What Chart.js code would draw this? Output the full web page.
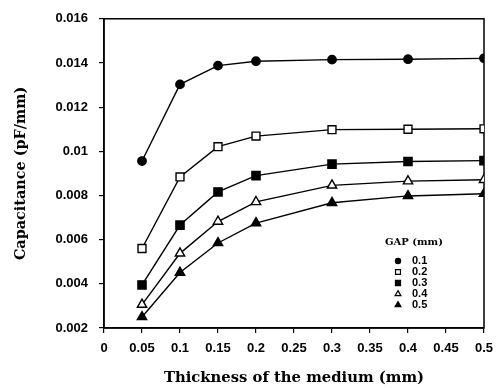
<!DOCTYPE html>
<html>
<head>
<meta charset="utf-8">
<script src="https://cdn.jsdelivr.net/npm/chart.js@4.4.1/dist/chart.umd.min.js"></script>
<style>
  html, body { margin: 0; padding: 0; background: #fff; }
  #wrap { width: 503px; height: 388px; position: relative; }
</style>
</head>
<body>
<div id="wrap"><canvas id="c" width="503" height="388"></canvas></div>
<script>
// ---- data ----
const thickness = [0.05, 0.1, 0.15, 0.2, 0.3, 0.4, 0.5];
const gap01 = [0.00956, 0.01303, 0.01388, 0.01408, 0.01415, 0.01417, 0.01421];
const gap02 = [0.00560, 0.00884, 0.01021, 0.01069, 0.01098, 0.01100, 0.01102];
const gap03 = [0.00395, 0.00666, 0.00816, 0.00890, 0.00942, 0.00954, 0.00958];
const gap04 = [0.00306, 0.00538, 0.00682, 0.00771, 0.00846, 0.00865, 0.00871];
const gap05 = [0.00250, 0.00451, 0.00585, 0.00675, 0.00767, 0.00798, 0.00808];
const seriesLabels = ['0.1', '0.2', '0.3', '0.4', '0.5'];
const xTickLabels = ['0', '0.05', '0.1', '0.15', '0.2', '0.25', '0.3', '0.35', '0.4', '0.45', '0.5'];
const yTickLabels = ['0.002', '0.004', '0.006', '0.008', '0.01', '0.012', '0.014', '0.016'];
const xTitle = 'Thickness of the medium (mm)';
const yTitle = 'Capacitance (pF/mm)';
const legendTitle = 'GAP (mm)';

const seriesValues = [gap01, gap02, gap03, gap04, gap05];
const styles = [
  { pointStyle: 'circle',   radius: 4.2, fill: '#000' },
  { pointStyle: 'rect',     radius: 5.6, fill: '#fff' },
  { pointStyle: 'rect',     radius: 5.8, fill: '#000' },
  { pointStyle: 'triangle', radius: 5.4, fill: '#fff' },
  { pointStyle: 'triangle', radius: 5.4, fill: '#000' }
];

const datasets = seriesValues.map((vals, i) => ({
  label: seriesLabels[i],
  data: thickness.map((x, j) => ({ x: x, y: vals[j] })),
  borderColor: '#000',
  borderWidth: 1.4,
  pointStyle: styles[i].pointStyle,
  pointRadius: styles[i].radius,
  pointBackgroundColor: styles[i].fill,
  pointBorderColor: '#000',
  pointBorderWidth: 1.4,
  tension: 0,
  fill: false
}));

const framePlugin = {
  id: 'frame',
  beforeDatasetsDraw(chart) {
    const { ctx, chartArea: a } = chart;
    ctx.save();
    ctx.strokeStyle = '#000';
    ctx.lineWidth = 1.5;
    ctx.strokeRect(a.left, a.top, a.right - a.left, a.bottom - a.top);
    ctx.restore();
  }
};

const innerLegend = {
  id: 'innerLegend',
  afterDatasetsDraw(chart, args, opts) {
    const { ctx } = chart;
    ctx.save();
    ctx.fillStyle = '#000';
    ctx.textBaseline = 'middle';
    ctx.font = 'bold 10px "DejaVu Serif"';
    ctx.textAlign = 'left';
    ctx.fillText(legendTitle, opts.titleX, opts.titleY);
    ctx.font = 'bold 11px "Liberation Sans"';
    chart.data.datasets.forEach((ds, i) => {
      const y = opts.firstY + i * opts.rowGap;
      ctx.fillStyle = ds.pointBackgroundColor;
      ctx.strokeStyle = '#000';
      ctx.lineWidth = 1.2;
      Chart.helpers.drawPoint(ctx, {
        pointStyle: ds.pointStyle,
        radius: ds.pointRadius * 0.62,
        borderWidth: 1.2,
        rotation: 0
      }, opts.symbolX, y);
      ctx.fillStyle = '#000';
      ctx.fillText(ds.label, opts.textX, y);
    });
    ctx.restore();
  }
};

new Chart(document.getElementById('c'), {
  type: 'line',
  data: { datasets: datasets },
  plugins: [framePlugin, innerLegend],
  options: {
    responsive: false,
    animation: false,
    devicePixelRatio: 1,
    layout: { padding: { top: 15, right: 19, left: 0, bottom: 0 } },
    plugins: {
      legend: { display: false },
      tooltip: { enabled: false },
      innerLegend: { titleX: 385, titleY: 242, symbolX: 398, textX: 412, firstY: 261, rowGap: 11 }
    },
    scales: {
      x: {
        type: 'linear',
        min: 0, max: 0.5,
        afterFit(s) { s.height = 60; },
        ticks: {
          stepSize: 0.05,
          autoSkip: false,
          maxRotation: 0,
          padding: 8,
          color: '#000',
          font: { family: '"Liberation Sans"', weight: 'bold', size: 13 },
          callback: (v, i) => xTickLabels[i]
        },
        grid: { display: true, drawOnChartArea: false, drawTicks: true, tickLength: 5, color: '#000', lineWidth: 1.2 },
        border: { display: true, color: '#000', width: 1.5 },
        title: {
          display: true, text: xTitle, color: '#000',
          font: { family: '"DejaVu Serif"', weight: 'bold', size: 14.8 },
          padding: { top: 0, bottom: 1 }
        }
      },
      y: {
        type: 'linear',
        min: 0.002, max: 0.016,
        afterFit(s) { s.width = 104; },
        ticks: {
          stepSize: 0.002,
          autoSkip: false,
          padding: 11,
          color: '#000',
          font: { family: '"Liberation Sans"', weight: 'bold', size: 13 },
          callback: (v, i) => yTickLabels[i]
        },
        grid: { display: true, drawOnChartArea: false, drawTicks: true, tickLength: 5, color: '#000', lineWidth: 1.2 },
        border: { display: true, color: '#000', width: 1.5 },
        title: {
          display: true, text: yTitle, color: '#000',
          font: { family: '"DejaVu Serif"', weight: 'bold', size: 14.4 },
          padding: { top: 13, bottom: 0 }
        }
      }
    }
  }
});
</script>
</body>
</html>
